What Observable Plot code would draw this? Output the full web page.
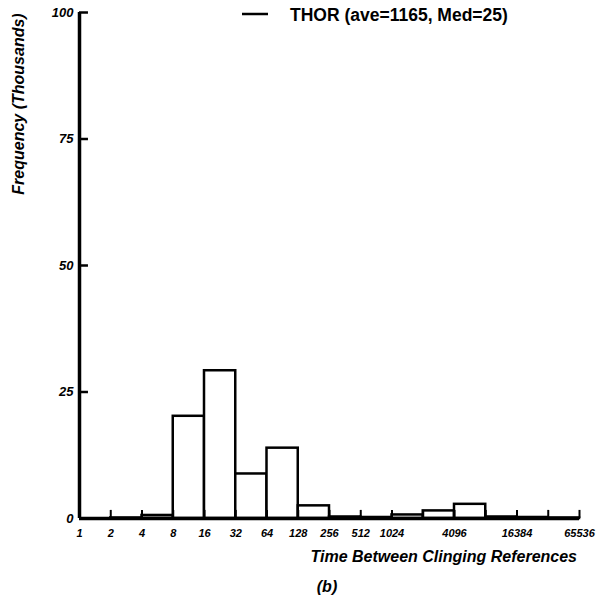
<!DOCTYPE html>
<html><head><meta charset="utf-8">
<script src="https://cdn.jsdelivr.net/npm/d3@7"></script>
<script src="https://cdn.jsdelivr.net/npm/@observablehq/plot@0.6"></script>
<style>
html,body{margin:0;padding:0;background:#fff;}
#wrap{position:relative;width:609px;height:600px;}
</style></head>
<body><div id="wrap"></div>
<script>
// bin edges (powers of two) and frequencies (thousands)
const binStarts = [1, 2, 4, 8, 16, 32, 64, 128, 256, 512, 1024, 2048, 4096, 8192, 16384, 32768];
const binEnds   = [2, 4, 8, 16, 32, 64, 128, 256, 512, 1024, 2048, 4096, 8192, 16384, 32768, 65536];
const freq      = [0, 0.1, 0.6, 20.2, 29.2, 8.8, 13.9, 2.5, 0.3, 0.2, 0.7, 1.5, 2.8, 0.3, 0.2, 0.1];
const xTicks = [1, 2, 4, 8, 16, 32, 64, 128, 256, 512, 1024, 2048, 4096, 8192, 16384, 32768, 65536];
const xTickLabels = [1, 2, 4, 8, 16, 32, 64, 128, 256, 512, 1024, 4096, 16384, 65536];
const yTicks = [0, 25, 50, 75, 100];
const legendLabel = "THOR (ave=1165, Med=25)";
const yLabel = "Frequency (Thousands)";
const xLabel = "Time Between Clinging References";
const caption = "(b)";

const bins = binStarts.map((s, i) => ({x1: s, x2: binEnds[i], y: freq[i]}));
const font = "'Liberation Sans', Arial, sans-serif";

const chart = Plot.plot({
  width: 609, height: 600,
  marginLeft: 79, marginRight: 30, marginTop: 12, marginBottom: 82,
  style: {fontFamily: font, background: "white"},
  x: {type: "log", base: 2, domain: [1, 65536], axis: null},
  y: {domain: [0, 100], axis: null},
  marks: [
    Plot.rect(bins, {x1: "x1", x2: "x2", y1: 0, y2: "y", fill: "white", stroke: "black", strokeWidth: 2.5}),
    // inward x ticks
    Plot.ruleX(xTicks, {x: d => d, y1: 0, y2: 1.6, stroke: "black", strokeWidth: 2}),
    // inward y ticks
    Plot.ruleY(yTicks.filter(d => d > 0), {y: d => d, x1: 1, x2: 1.22, stroke: "black", strokeWidth: 2.5}),
    Plot.ruleX([1], {y1: 0, y2: 100, stroke: "black", strokeWidth: 3.5}),
    Plot.ruleY([0], {x1: 1, x2: 65536, stroke: "black", strokeWidth: 3.5}),
    Plot.text(xTickLabels, {x: d => d, y: 0, text: d => String(d), dy: 15, fontSize: 11, fontWeight: "bold", fontStyle: "italic", fill: "black"}),
    Plot.text(yTicks, {y: d => d, x: 1, text: d => String(d), textAnchor: "end", dx: -6, fontSize: 13, fontWeight: "bold", fontStyle: "italic", fill: "black"})
  ]
});
document.getElementById("wrap").appendChild(chart);

const svg = d3.select(chart);
// legend
svg.append("line").attr("x1", 242).attr("x2", 268).attr("y1", 14).attr("y2", 14).attr("stroke", "black").attr("stroke-width", 2.5);
svg.append("text").attr("x", 290).attr("y", 21).attr("text-anchor", "start").attr("font-family", font).attr("font-size", 17.5).attr("font-weight", "bold").text(legendLabel);
// y label
svg.append("text").attr("transform", "translate(24,104) rotate(-90)").attr("text-anchor", "middle")
  .attr("font-family", font).attr("font-size", 16).attr("font-weight", "bold").attr("font-style", "italic").text(yLabel);
// x label
svg.append("text").attr("x", 577).attr("y", 562).attr("text-anchor", "end")
  .attr("font-family", font).attr("font-size", 16).attr("font-weight", "bold").attr("font-style", "italic").text(xLabel);
svg.append("text").attr("x", 327).attr("y", 592).attr("text-anchor", "middle")
  .attr("font-family", font).attr("font-size", 16).attr("font-weight", "bold").attr("font-style", "italic").text(caption);
</script>
</body></html>
